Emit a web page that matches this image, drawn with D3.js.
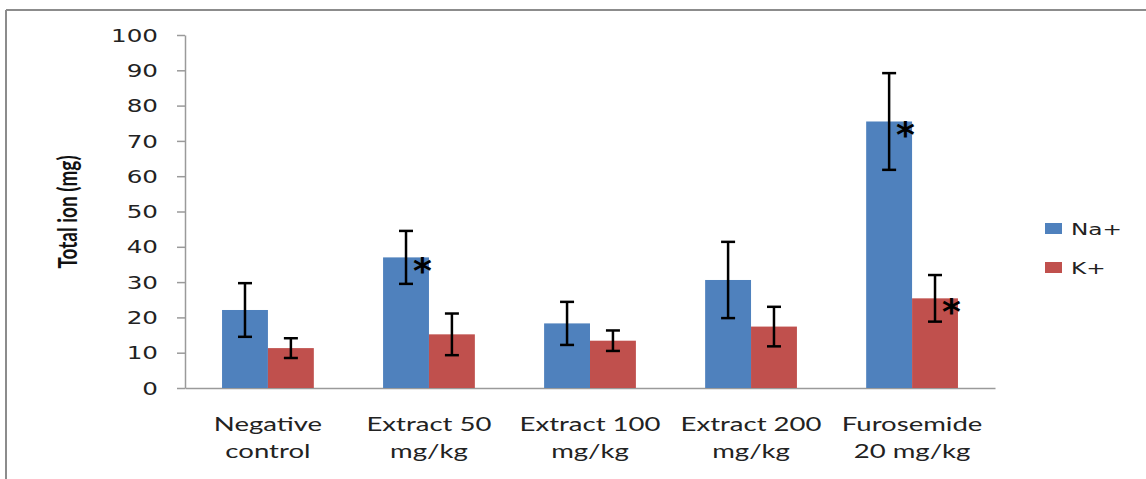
<!DOCTYPE html>
<html>
<head>
<meta charset="utf-8">
<script src="https://cdn.jsdelivr.net/npm/d3@7"></script>
<style>
  body { margin: 0; background: #fff; }
  svg { display: block; }
</style>
</head>
<body>
<svg id="chart" width="1146" height="479"></svg>
<script>
// chart data
var categories = ["Negative control", "Extract 50 mg/kg", "Extract 100 mg/kg", "Extract 200 mg/kg", "Furosemide 20 mg/kg"];
var categoryLines = [["Negative", "control"], ["Extract 50", "mg/kg"], ["Extract 100", "mg/kg"], ["Extract 200", "mg/kg"], ["Furosemide", "20 mg/kg"]];
var seriesNames = ["Na+", "K+"];
var naValues = [22.1, 37.0, 18.3, 30.6, 75.5];
var naErrors = [7.6, 7.5, 6.1, 10.8, 13.7];
var kValues = [11.3, 15.2, 13.4, 17.4, 25.4];
var kErrors = [2.8, 5.9, 2.9, 5.6, 6.6];
var naSignificant = [false, true, false, false, true];
var kSignificant = [false, false, false, false, true];
var yTicks = [0, 10, 20, 30, 40, 50, 60, 70, 80, 90, 100];

var colors = ["#4F81BD", "#C0504D"];
var SX = 1.45; // the source picture is stretched sideways

var svg = d3.select("#chart");

// outer frame (only top and left edges are in view)
svg.append("line").attr("x1", 6).attr("y1", 10).attr("x2", 1146).attr("y2", 10)
    .attr("stroke", "#8c8c8c").attr("stroke-width", 2);
svg.append("line").attr("x1", 6).attr("y1", 10).attr("x2", 6).attr("y2", 479)
    .attr("stroke", "#8c8c8c").attr("stroke-width", 2);

var plotLeft = 185, plotRight = 995, plotTop = 35, plotBottom = 388;

var x = d3.scaleBand().domain(categories).range([plotLeft, plotRight]).paddingInner(0.43).paddingOuter(0.23);
var xs = d3.scaleBand().domain(seriesNames).range([0, x.bandwidth()]);
var y = d3.scaleLinear().domain([0, 100]).range([plotBottom, plotTop]);

// build rows from the arrays
var rows = categories.map(function(c, i) {
  return {
    cat: c,
    lines: categoryLines[i],
    items: [
      { s: "Na+", v: naValues[i], e: naErrors[i], sig: naSignificant[i], color: colors[0] },
      { s: "K+", v: kValues[i], e: kErrors[i], sig: kSignificant[i], color: colors[1] }
    ]
  };
});

// y axis
var yAxis = svg.append("g")
    .attr("transform", "translate(" + plotLeft + ",0)")
    .call(d3.axisLeft(y).tickValues(yTicks).tickSize(8).tickSizeOuter(0));
yAxis.select(".domain").attr("stroke", "#9a9a9a").attr("stroke-width", 1.5);
yAxis.selectAll(".tick line").attr("stroke", "#9a9a9a").attr("stroke-width", 1.5);
yAxis.selectAll(".tick text")
    .attr("x", 0)
    .attr("dy", "0.36em")
    .attr("transform", "translate(-27,0) scale(" + SX + ",1)")
    .style("font-family", "'DejaVu Sans', Verdana, sans-serif")
    .style("font-size", "17px")
    .attr("fill", "#222");

// x axis line
svg.append("g")
    .attr("transform", "translate(0," + plotBottom + ")")
    .call(d3.axisBottom(x).tickSize(0).tickFormat(""))
    .select(".domain").attr("stroke", "#9a9a9a").attr("stroke-width", 1.5);

// category labels (two lines each)
var labels = svg.append("g");
rows.forEach(function(r) {
  var cx = x(r.cat) + x.bandwidth() / 2;
  r.lines.forEach(function(t, j) {
    labels.append("text")
        .attr("transform", "translate(" + cx + "," + (431 + j * 27) + ") scale(" + SX + ",1)")
        .attr("text-anchor", "middle")
        .style("font-family", "Lato, 'Liberation Sans', sans-serif")
        .style("font-size", "19px")
        .attr("fill", "#222")
        .text(t);
  });
});

// y title
svg.append("text")
    .attr("transform", "translate(77,212) scale(" + SX + ",1) rotate(-90)")
    .attr("text-anchor", "middle")
    .style("font-family", "Lato, 'Liberation Sans', sans-serif")
    .style("font-weight", "bold")
    .style("font-size", "19px")
    .attr("fill", "#111")
    .text("Total ion (mg)");

// bars
var groups = svg.selectAll(".grp").data(rows).enter().append("g")
    .attr("class", "grp")
    .attr("transform", function(d) { return "translate(" + x(d.cat) + ",0)"; });

groups.selectAll("rect").data(function(d) { return d.items; }).enter().append("rect")
    .attr("x", function(d) { return xs(d.s); })
    .attr("y", function(d) { return y(d.v); })
    .attr("width", xs.bandwidth())
    .attr("height", function(d) { return y(0) - y(d.v); })
    .attr("fill", function(d) { return d.color; });

// error bars
var err = groups.selectAll(".err").data(function(d) { return d.items; }).enter().append("g")
    .attr("class", "err")
    .attr("transform", function(d) { return "translate(" + (xs(d.s) + xs.bandwidth() / 2) + ",0)"; });
err.append("line")
    .attr("x1", 0).attr("x2", 0)
    .attr("y1", function(d) { return y(d.v + d.e); })
    .attr("y2", function(d) { return y(d.v - d.e); })
    .attr("stroke", "#000").attr("stroke-width", 2.5);
err.append("line")
    .attr("x1", -7).attr("x2", 7)
    .attr("y1", function(d) { return y(d.v + d.e); })
    .attr("y2", function(d) { return y(d.v + d.e); })
    .attr("stroke", "#000").attr("stroke-width", 2.5);
err.append("line")
    .attr("x1", -7).attr("x2", 7)
    .attr("y1", function(d) { return y(d.v - d.e); })
    .attr("y2", function(d) { return y(d.v - d.e); })
    .attr("stroke", "#000").attr("stroke-width", 2.5);

// significance marks
err.filter(function(d) { return d.sig; }).append("text")
    .attr("x", 7)
    .attr("y", function(d) { return y(d.v) + 26; })
    .style("font-family", "'DejaVu Sans', sans-serif")
    .style("font-weight", "bold")
    .style("font-size", "36px")
    .attr("fill", "#000")
    .text("*");

// legend
var legend = svg.append("g").attr("transform", "translate(1045,223)");
seriesNames.forEach(function(s, i) {
  var g = legend.append("g").attr("transform", "translate(0," + (i * 39) + ")");
  g.append("rect").attr("width", 17).attr("height", 11).attr("fill", colors[i]);
  g.append("text")
      .attr("transform", "translate(26,12) scale(" + SX + ",1)")
      .style("font-family", "'DejaVu Sans', Verdana, sans-serif")
      .style("font-size", "16px")
      .attr("fill", "#222")
      .text(s);
});
</script>
</body>
</html>
